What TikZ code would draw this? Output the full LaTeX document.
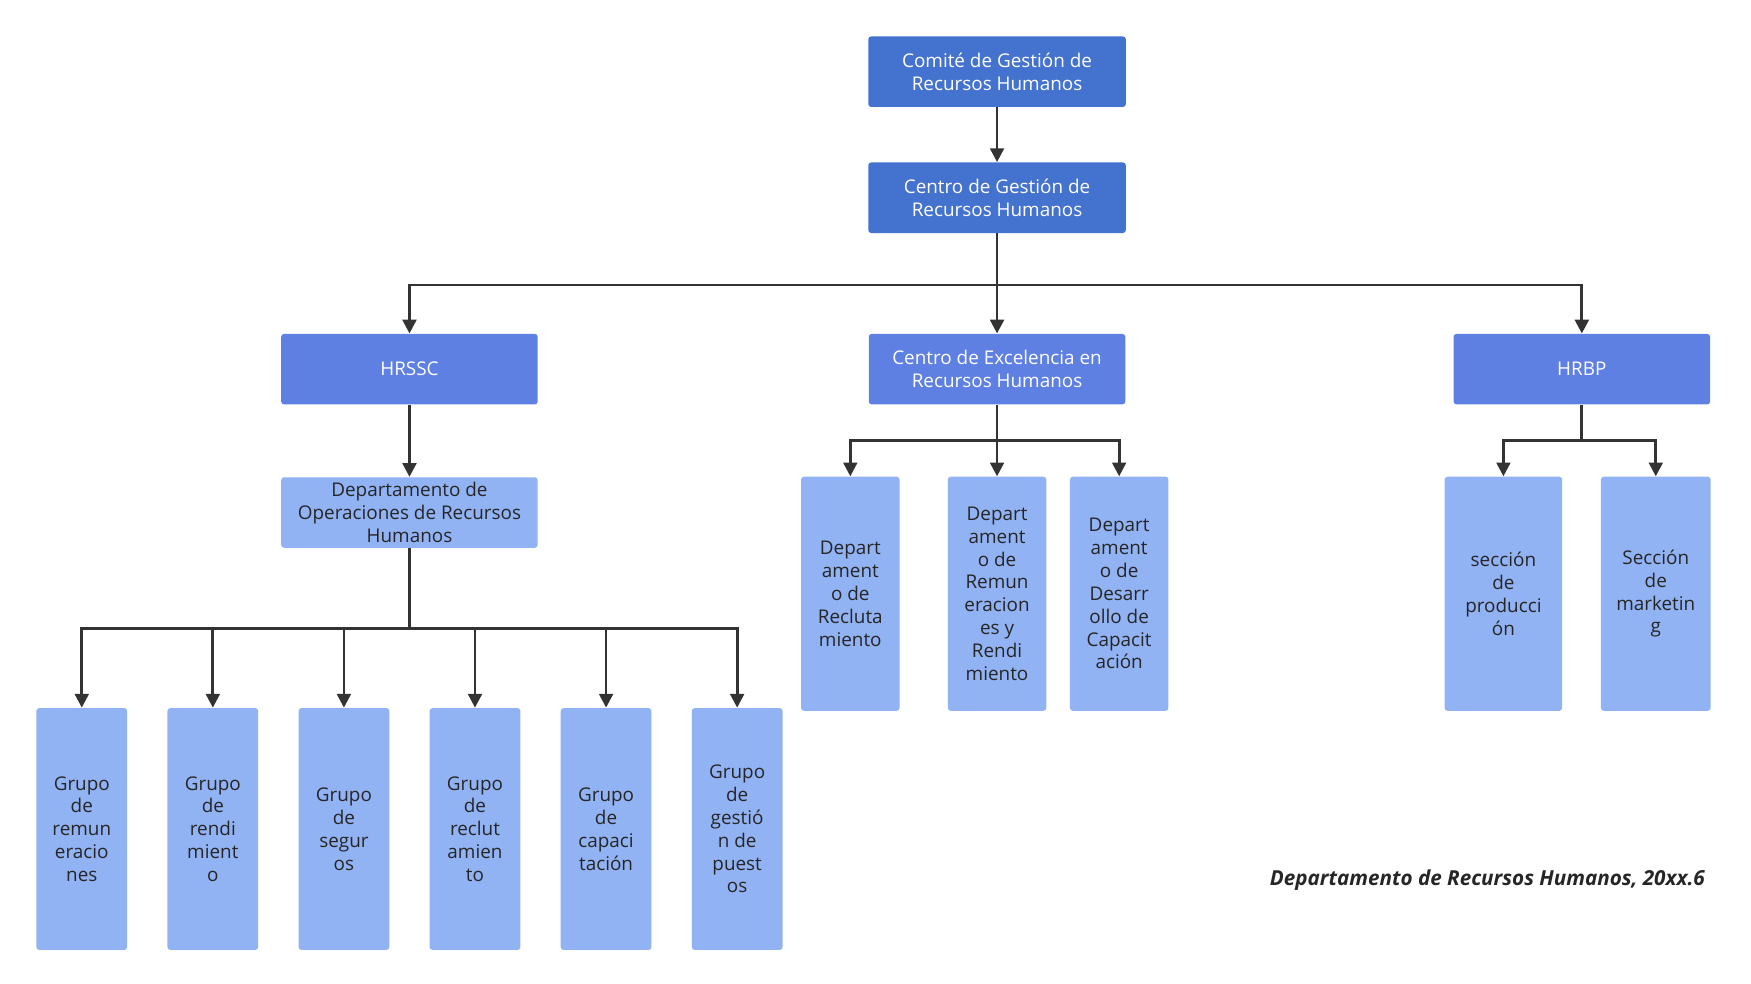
\documentclass[tikz,border=0pt]{standalone}
\usepackage{fontspec}
\setmainfont{Open Sans}
\usetikzlibrary{arrows.meta}
\definecolor{topblue}{HTML}{4472CF}
\definecolor{midblue}{HTML}{5F80E3}
\definecolor{lightblue}{HTML}{91B2F3}
\definecolor{linegray}{HTML}{333333}
\tikzset{
  box/.style={draw=none, rounded corners=1.5pt, inner sep=0pt, align=center,
    font=\fontsize{9.6}{11.6}\selectfont},
  topbox/.style={box, fill=topblue, text=white, minimum width=4.6cm, minimum height=1.26cm},
  midbox/.style={box, fill=midblue, text=white, minimum width=4.58cm, minimum height=1.26cm},
  opsbox/.style={box, fill=lightblue, text=black!85, minimum width=4.58cm, minimum height=1.26cm},
  grp/.style={box, fill=lightblue, text=black!85, minimum width=1.62cm, minimum height=4.32cm},
  dep/.style={box, fill=lightblue, text=black!85, minimum width=1.76cm, minimum height=4.18cm},
  link/.style={draw=linegray, line width=1.4pt, -{Triangle[length=7pt,width=7pt]}},
}
\begin{document}
\begin{tikzpicture}[x=0.02cm, y=-0.02cm]
\useasboundingbox (0,0) rectangle (1563,877.5);
% top of the tree
\node[topbox] (comite) at (890,64) {Comité de Gestión de\\Recursos Humanos};
\node[topbox] (centro) at (890,176.5) {Centro de Gestión de\\Recursos Humanos};
\node[midbox] (hrssc) at (365.5,329.5) {HRSSC};
\node[midbox] (coe) at (890,329.5) {Centro de Excelencia en\\Recursos Humanos};
\node[midbox] (hrbp) at (1412,329.5) {HRBP};
\node[opsbox] (ops) at (365.5,457.5) {Departamento de\\Operaciones de Recursos\\Humanos};

% groups under operations
\node[grp] (g1) at (73,740) {Grupo\\de\\remun\\eracio\\nes};
\node[grp] (g2) at (190,740) {Grupo\\de\\rendi\\mient\\o};
\node[grp] (g3) at (307,740) {Grupo\\de\\segur\\os};
\node[grp] (g4) at (424,740) {Grupo\\de\\reclut\\amien\\to};
\node[grp] (g5) at (541,740) {Grupo\\de\\capaci\\tación};
\node[grp] (g6) at (658,740) {Grupo\\de\\gestió\\n de\\puest\\os};

% departments under CoE
\node[dep] (d1) at (759,530) {Depart\\ament\\o de\\Recluta\\miento};
\node[dep] (d2) at (890,530) {Depart\\ament\\o de\\Remun\\eracion\\es y\\Rendi\\miento};
\node[dep] (d3) at (999,530) {Depart\\ament\\o de\\Desarr\\ollo de\\Capacit\\ación};

% sections under HRBP
\node[dep, minimum width=2.1cm] (s1) at (1342,530) {sección\\de\\producci\\ón};
\node[dep, minimum width=1.96cm] (s2) at (1478,530) {Sección\\de\\marketin\\g};

\node[font=\fontsize{10.5}{12}\selectfont\bfseries\itshape, text=black!85, anchor=east] (cap) at (1528,786) {Departamento de Recursos Humanos, 20xx.6};

% connectors
\draw[link] (comite) -- (centro);
\draw[link] (centro.south) -- ++(0,46) -| (hrssc.north);
\draw[link] (centro.south) -- ++(0,46) -| (hrbp.north);
\draw[link] (centro) -- (coe);
\draw[link] (hrssc) -- (ops);
\foreach \g in {g1,g2,g3,g4,g5,g6}
  \draw[link] (ops.south) -- ++(0,72) -| (\g.north);
\foreach \d in {d1,d2,d3}
  \draw[link] (coe.south) -- ++(0,32) -| (\d.north);
\foreach \s in {s1,s2}
  \draw[link] (hrbp.south) -- ++(0,32) -| (\s.north);
\end{tikzpicture}
\end{document}
